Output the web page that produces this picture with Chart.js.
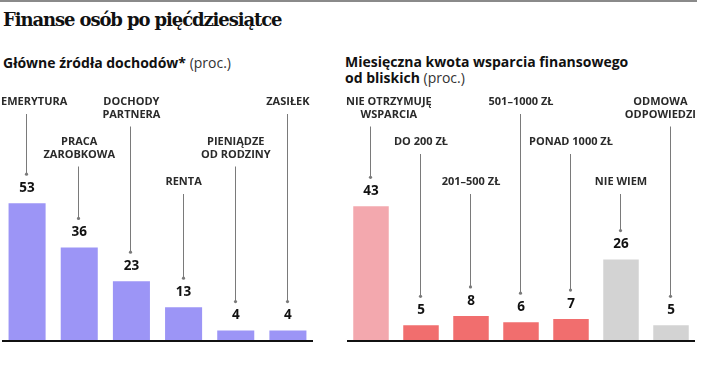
<!DOCTYPE html>
<html lang="pl">
<head>
<meta charset="UTF-8">
<title>Finanse osób po pięćdziesiątce</title>
<script src="https://cdn.jsdelivr.net/npm/chart.js"></script>
<style>
  body { margin: 0; background: #fff; width: 706px; height: 377px; position: relative; overflow: hidden; font-family: "Open Sans", sans-serif; color: #111; }
  .topline { position: absolute; left: 0; top: 0; width: 697px; height: 2px; background: #8a8a8a; }
  h1 { position: absolute; left: 3px; top: 9px; margin: 0; font-family: "DejaVu Serif", serif; font-weight: bold; font-size: 18px; letter-spacing: -1.1px; }
  .sub { position: absolute; margin: 0; font-size: 14px; line-height: 16px; }
  .sub b { font-weight: 700; }
  .sub span { font-weight: 400; color: #333; }
  #left { position: absolute; left: 1px; top: 81px; }
  #right { position: absolute; left: 346px; top: 81px; }
</style>
</head>
<body>
<div class="topline"></div>
<h1>Finanse osób po pięćdziesiątce</h1>
<p class="sub" style="left:3px; top:55px;"><b>Główne źródła dochodów*</b> <span>(proc.)</span></p>
<p class="sub" style="left:345px; top:54px;"><b>Miesięczna kwota wsparcia finansowego<br>od bliskich</b> <span>(proc.)</span></p>
<canvas id="left" width="313" height="262"></canvas>
<canvas id="right" width="350" height="262"></canvas>
<script>
// dane – źródła dochodów
var incomeLabels = [['EMERYTURA'], ['PRACA', 'ZAROBKOWA'], ['DOCHODY', 'PARTNERA'], ['RENTA'], ['PIENIĄDZE', 'OD RODZINY'], ['ZASIŁEK']];
var incomeValues = [53, 36, 23, 13, 4, 4];
var incomeTier = [0, 1, 0, 2, 1, 0];

// dane – wsparcie od bliskich
var supportLabels = [['NIE OTRZYMUJĘ', 'WSPARCIA'], ['DO 200 ZŁ'], ['201–500 ZŁ'], ['501–1000 ZŁ'], ['PONAD 1000 ZŁ'], ['NIE WIEM'], ['ODMOWA', 'ODPOWIEDZI']];
var supportValues = [43, 5, 8, 6, 7, 26, 5];
var supportTier = [0, 1, 2, 0, 1, 2, 0];

var tierY = [21, 61, 101]; // first text line, canvas px

var leaderPlugin = {
    id: 'leaders',
    afterDatasetsDraw: function(chart, args, opts) {
        var ctx = chart.ctx;
        var area = chart.chartArea;
        var meta = chart.getDatasetMeta(0);
        var labels = chart.data.labels;
        var values = chart.data.datasets[0].data;
        ctx.save();
        // baseline
        ctx.strokeStyle = '#111';
        ctx.lineWidth = 2;
        ctx.beginPath();
        ctx.moveTo(area.left + 1, area.bottom);
        ctx.lineTo(area.right - 1, area.bottom);
        ctx.stroke();

        meta.data.forEach(function(bar, i) {
            var x = bar.x;
            var top = bar.y;
            var lines = labels[i];
            var ty = tierY[opts.tier[i]];

            ctx.font = 'bold 11px "Open Sans"';
            ctx.fillStyle = '#2a2a2a';
            ctx.textAlign = 'center';
            ctx.textBaseline = 'middle';
            var w = 0;
            lines.forEach(function(l) { w = Math.max(w, ctx.measureText(l).width); });
            var cx = Math.min(Math.max(x, area.left + w / 2), area.right - w / 2);
            lines.forEach(function(l, j) {
                ctx.fillText(l, cx, ty + j * 12.5);
            });

            var lineTop = ty + (lines.length - 1) * 12.5 + 12;
            var dotY = top - 29;
            ctx.strokeStyle = '#7a7a7a';
            ctx.lineWidth = 1;
            ctx.beginPath();
            ctx.moveTo(Math.round(x) - 0.5, lineTop);
            ctx.lineTo(Math.round(x) - 0.5, dotY);
            ctx.stroke();
            ctx.fillStyle = '#7a7a7a';
            ctx.beginPath();
            ctx.arc(Math.round(x) - 0.5, dotY, 1.6, 0, Math.PI * 2);
            ctx.fill();

            ctx.font = 'bold 13.5px "Open Sans"';
            ctx.fillStyle = '#111';
            ctx.fillText(String(values[i]), x, top - 15);
        });
        ctx.restore();
    }
};

function makeChart(id, labels, values, colors, yMax, tier) {
    return new Chart(document.getElementById(id).getContext('2d'), {
        type: 'bar',
        data: {
            labels: labels,
            datasets: [{
                data: values,
                backgroundColor: colors,
                borderWidth: 0,
                categoryPercentage: 1,
                barPercentage: 0.71
            }]
        },
        options: {
            responsive: false,
            animation: false,
            layout: { padding: { left: 0, right: 0, top: 0, bottom: 2 } },
            plugins: {
                legend: { display: false },
                tooltip: { enabled: false },
                leaders: { tier: tier }
            },
            scales: {
                x: { display: false },
                y: { display: false, min: 0, max: yMax }
            }
        },
        plugins: [leaderPlugin]
    });
}

makeChart('left', incomeLabels, incomeValues, '#9c95f6', 100, incomeTier);
makeChart('right', supportLabels, supportValues,
    ['#f3a8ae', '#f16e6e', '#f16e6e', '#f16e6e', '#f16e6e', '#d3d3d3', '#d3d3d3'], 83, supportTier);
</script>
</body>
</html>
